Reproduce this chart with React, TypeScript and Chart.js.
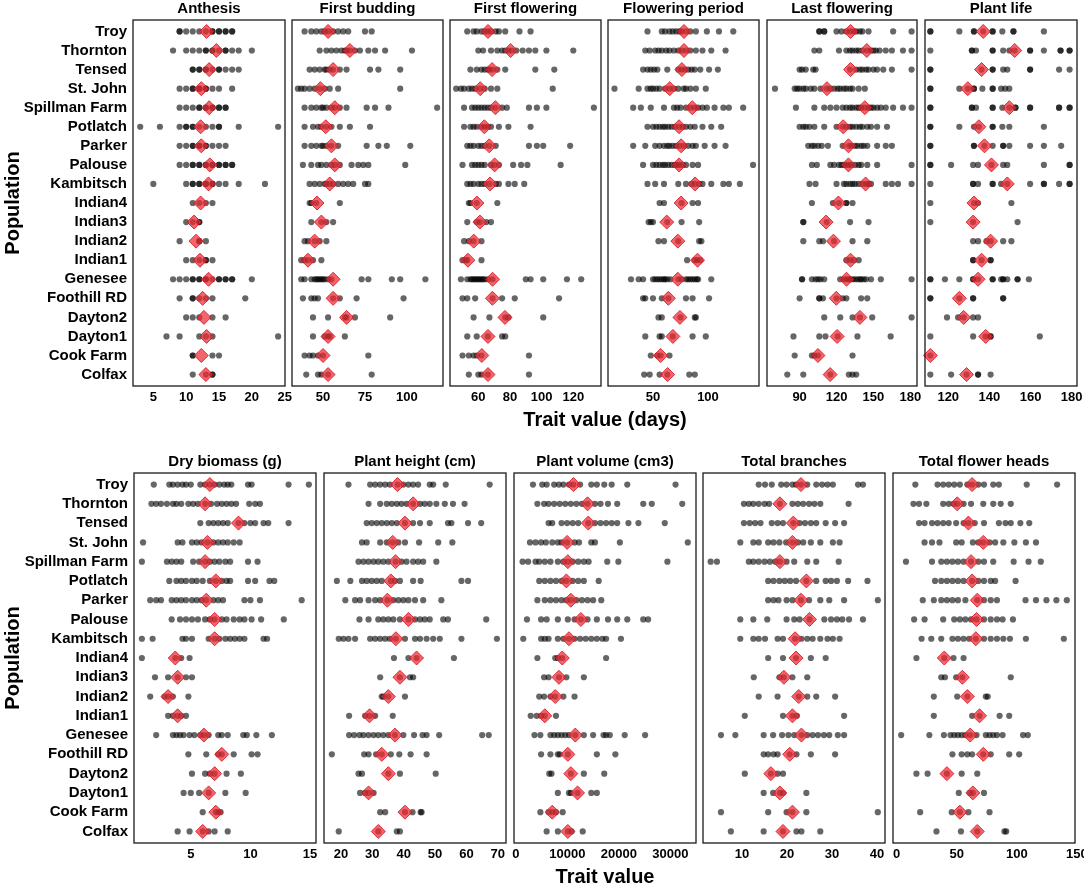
import { useEffect, useRef } from "react"
import { Chart, registerables } from "chart.js"

Chart.register(...registerables)

const FONT = "'Liberation Sans', Arial, Helvetica, sans-serif"

const populations = [
  "Troy", "Thornton", "Tensed", "St. John", "Spillman Farm", "Potlatch", "Parker", "Palouse",
  "Kambitsch", "Indian4", "Indian3", "Indian2", "Indian1", "Genesee", "Foothill RD", "Dayton2",
  "Dayton1", "Cook Farm", "Colfax",
]

// ---- top row: days ----
const anthesisPoints = [
  [9, 9, 10, 11, 12, 13, 14, 14, 15, 15, 16, 16, 17, 17],
  [8, 10, 11, 12, 13, 13, 14, 14, 15, 16, 16, 17, 18, 20],
  [11, 11, 12, 12, 13, 13, 14, 15, 15, 16, 17, 18],
  [9, 10, 11, 11, 12, 12, 13, 13, 14, 15, 17],
  [9, 10, 11, 12, 12, 13, 13, 14, 14, 15, 15, 16, 16],
  [3, 6, 9, 10, 10, 11, 11, 12, 13, 14, 15, 15, 18, 24],
  [9, 10, 11, 11, 12, 12, 13, 13, 14, 15, 16],
  [9, 10, 11, 11, 12, 12, 13, 13, 14, 14, 15, 15, 16, 16, 17, 17],
  [5, 10, 11, 11, 12, 12, 13, 13, 14, 14, 15, 16, 18, 22],
  [11, 12, 13, 14],
  [10, 11, 12, 12],
  [9, 12, 12, 13],
  [10, 11, 12, 13, 13, 14],
  [8, 9, 10, 11, 11, 12, 12, 13, 13, 14, 15, 15, 16, 16, 17, 17, 20],
  [9, 11, 11, 12, 13, 14, 19],
  [10, 11, 12, 14, 16],
  [7, 9, 12, 13, 14, 24],
  [11, 11, 14, 15],
  [11, 13, 14, 14],
]
const anthesisMeans = [13.1, 14.6, 13.5, 12.3, 13.5, 12.2, 12.3, 13.6, 13.4, 12.2, 11.2, 11.5, 12.1, 13.4, 12.5, 12.7, 13.1, 12.3, 13.0]
const anthesisTicks = [5, 10, 15, 20, 25]

const buddingPoints = [
  [39, 43, 46, 49, 51, 53, 56, 59, 62, 65, 75, 79],
  [48, 52, 55, 58, 61, 63, 64, 66, 69, 72, 77, 81, 87, 103],
  [42, 45, 48, 51, 52, 54, 56, 60, 64, 78, 83, 96],
  [35, 37, 39, 42, 45, 48, 51, 54, 59, 96],
  [39, 43, 46, 49, 50, 52, 55, 57, 60, 64, 76, 81, 89, 118],
  [39, 44, 47, 49, 52, 55, 60, 66, 78],
  [39, 43, 46, 49, 50, 52, 55, 59, 76, 83, 88, 102],
  [38, 43, 47, 49, 52, 55, 57, 60, 67, 71, 74, 77, 99],
  [42, 45, 48, 51, 52, 54, 56, 59, 62, 65, 68, 75, 77],
  [42, 43, 46, 60],
  [43, 49, 52, 56],
  [39, 41, 45, 48, 52],
  [37, 39, 41, 44, 49],
  [37, 39, 43, 45, 46, 47, 48, 49, 50, 51, 53, 55, 73, 77, 91, 96, 111],
  [38, 43, 45, 47, 56, 60, 70, 98],
  [44, 53, 63, 64, 69, 90],
  [44, 51, 53, 54, 63],
  [39, 42, 44, 47, 50, 77],
  [40, 47, 49, 53, 79],
]
const buddingMeans = [53, 66, 56, 48.4, 57, 51.6, 55, 57, 54, 46.4, 49, 45, 41, 56, 56, 64, 53, 50, 53]
const buddingTicks = [50, 75, 100]

const firstFlowerPoints = [
  [53, 57, 59, 62, 64, 66, 68, 71, 73, 77, 86, 93],
  [60, 63, 68, 72, 75, 77, 79, 81, 84, 88, 92, 96, 103, 120],
  [55, 59, 62, 64, 66, 67, 69, 72, 77, 96, 108],
  [46, 49, 51, 54, 56, 58, 61, 64, 68, 72, 107],
  [51, 56, 58, 60, 62, 64, 66, 68, 71, 75, 78, 92, 97, 103, 133],
  [51, 55, 57, 59, 62, 64, 66, 68, 73, 79, 93],
  [53, 55, 57, 60, 62, 64, 67, 71, 92, 97, 101, 118],
  [50, 56, 58, 60, 62, 64, 68, 70, 73, 82, 87, 91, 112],
  [53, 55, 57, 60, 62, 64, 67, 71, 73, 79, 83, 89],
  [54, 55, 59, 72],
  [53, 59, 61, 65, 68],
  [51, 54, 57, 62],
  [50, 52, 53, 62],
  [49, 53, 55, 56, 57, 58, 59, 60, 61, 62, 63, 64, 66, 69, 90, 93, 101, 116, 125],
  [50, 53, 58, 69, 75, 83, 111],
  [57, 67, 77, 79, 101],
  [53, 59, 66, 75, 77],
  [50, 54, 57, 59, 62, 92],
  [54, 60, 62, 66, 92],
]
const firstFlowerMeans = [66.1, 80.4, 68.7, 61.2, 70.8, 63.8, 66.9, 70.3, 67.4, 59.1, 61, 57.1, 53.4, 69, 68.9, 76.8, 66.1, 62.2, 66.1]
const firstFlowerTicks = [60, 80, 100, 120]

const periodPoints = [
  [45, 58, 61, 65, 68, 71, 74, 76, 80, 84, 89, 99, 110, 123],
  [43, 47, 52, 55, 58, 62, 65, 69, 73, 76, 80, 84, 89, 95, 103, 116],
  [41, 45, 48, 51, 54, 63, 73, 76, 79, 82, 85, 88, 93, 101, 109],
  [15, 37, 45, 48, 50, 53, 56, 61, 65, 69, 73, 78, 80, 84, 89, 98],
  [32, 39, 48, 60, 69, 72, 75, 80, 84, 88, 91, 95, 99, 106, 114, 119, 132],
  [45, 50, 53, 56, 59, 61, 64, 67, 70, 74, 77, 80, 84, 88, 95, 103, 112],
  [32, 43, 52, 56, 60, 63, 65, 68, 71, 74, 78, 82, 86, 89, 97, 106, 116],
  [41, 50, 53, 56, 59, 61, 64, 67, 70, 72, 74, 77, 80, 86, 91, 141],
  [45, 52, 60, 73, 80, 85, 88, 92, 95, 103, 114, 119, 129],
  [56, 60, 76, 86, 91],
  [46, 48, 50, 63, 76, 92],
  [55, 60, 73, 92, 94],
  [81, 88, 90, 93],
  [30, 37, 41, 50, 52, 54, 56, 58, 60, 61, 63, 66, 73, 76, 80, 82, 84, 86, 88, 90, 91, 103],
  [41, 43, 50, 58, 64, 80, 86, 101],
  [55, 58, 75, 88, 89],
  [43, 56, 58, 68, 86, 98],
  [48, 54, 57, 65],
  [42, 47, 56, 63, 83, 88],
]
const periodMeans = [78.2, 78.2, 76.3, 65.2, 85.7, 73.7, 75.6, 73.7, 88.3, 75.6, 62.5, 72.6, 90.5, 72.6, 64, 74.5, 68.1, 56.9, 63.3]
const periodTicks = [50, 100]

const lastFlowerPoints = [
  [106, 106, 110, 110, 120, 124, 128, 131, 134, 136, 139, 141, 146, 166, 181],
  [102, 106, 122, 128, 131, 133, 136, 138, 141, 145, 148, 150, 152, 155, 160, 165, 174, 181],
  [90, 92, 95, 101, 103, 131, 136, 139, 141, 144, 146, 150, 153, 158, 165, 181],
  [70, 86, 88, 90, 93, 95, 99, 102, 107, 112, 115, 118, 121, 123, 126, 128, 131, 133, 138, 143],
  [87, 102, 110, 115, 120, 125, 128, 131, 133, 136, 138, 140, 143, 146, 148, 150, 153, 156, 160, 166, 174, 181],
  [90, 93, 95, 98, 102, 110, 120, 125, 128, 131, 133, 136, 139, 141, 145, 148, 153, 161],
  [97, 100, 102, 105, 108, 113, 125, 130, 132, 135, 137, 140, 142, 145, 153, 160, 165],
  [100, 104, 115, 118, 122, 124, 126, 128, 130, 132, 135, 138, 140, 145, 153, 181],
  [98, 103, 120, 126, 128, 131, 133, 135, 138, 141, 144, 146, 148, 160, 165, 170, 181],
  [100, 117, 122, 128, 128, 133],
  [93, 93, 112, 131, 146],
  [93, 106, 109, 118, 133, 145],
  [128, 131, 134, 138],
  [92, 92, 100, 103, 105, 107, 110, 123, 126, 128, 130, 131, 133, 135, 137, 139, 140, 142, 144, 148, 156, 181],
  [90, 106, 106, 109, 120, 125, 128, 140, 145],
  [110, 123, 133, 139, 149, 181],
  [85, 106, 111, 121, 137, 164],
  [86, 100, 102, 105, 133],
  [80, 93, 115, 130, 133, 136],
]
const lastFlowerMeans = [131.4, 144.6, 131.4, 112.2, 143, 125.4, 129.7, 129.7, 143.6, 121.5, 111.5, 117.5, 131.4, 128.1, 119.8, 139, 120.5, 104.9, 114.8]
const lastFlowerTicks = [90, 120, 150, 180]

const lifePoints = [
  [111.3, 111.3, 125.4, 132.5, 132.5, 137, 141.6, 141.6, 146.3, 151.7, 151.7, 166.5],
  [111.3, 131.5, 131.5, 133.5, 141.6, 141.6, 146.7, 149.7, 152.3, 159.8, 159.8, 166.5, 174.6, 174.6, 179, 179],
  [111.3, 111.3, 136.2, 141.6, 141.6, 146.7, 148.7, 159.8, 159.8, 173.9, 179],
  [111.3, 111.3, 125.4, 129.5, 132.5, 132.5, 136.6, 141.6, 141.6, 145.7, 147.7, 149.7],
  [111.3, 111.3, 131.5, 131.5, 133.5, 141.6, 141.6, 146.3, 149.7, 152.7, 152.7, 159.8, 159.8, 173.9, 173.9, 179, 179],
  [111.3, 111.3, 125.4, 132.5, 134.9, 141.6, 141.6, 146.3, 149.7, 166.5],
  [111.3, 111.3, 132.5, 132.5, 137.6, 141.6, 146.7, 146.7, 149.7, 159.8, 166.5, 174.9],
  [111.3, 111.3, 121.4, 132.1, 134.5, 141, 146.7, 148.7, 166.5, 179, 179],
  [111.3, 132.1, 132.1, 134.5, 141.6, 141.6, 145.7, 148.7, 159.8, 166.5, 166.5, 173.9, 179, 179],
  [111.3, 132.5, 134.5, 150.7],
  [111.3, 132.1, 153.7],
  [132.1, 134.5, 138.6, 140.6, 146.7, 150.7],
  [132.1, 132.1, 136.2, 140.6, 140.6],
  [111.3, 111.3, 118.4, 125.4, 132.1, 132.1, 134.5, 141.6, 141.6, 145.7, 146.7, 146.7, 148.7, 153.7, 153.7, 159.2],
  [111.3, 111.3, 125.4, 132.1, 132.1, 146.7, 146.7],
  [119.4, 124.8, 127.5, 132.1, 134.5],
  [111.3, 132.1, 138.2, 140.6, 140.6, 164.5],
  [111.3],
  [111.3, 121.4, 128.9, 134.5, 134.5, 140.6],
]
const lifeMeans = [137, 152.3, 136.2, 129.5, 149.7, 134.9, 137.6, 141, 148.7, 132.5, 132.1, 140.6, 136.2, 134.5, 125.4, 127.5, 138.2, 111.3, 128.9]
const lifeTicks = [120, 140, 160, 180]

// ---- bottom row ----
const biomassPoints = [
  [1.9, 3.2, 3.5, 3.9, 4.3, 4.6, 5.0, 5.8, 6.2, 6.6, 7.0, 7.4, 7.8, 8.1, 8.4, 9.8, 10.1, 13.2, 14.9],
  [1.7, 2.1, 2.5, 3.0, 3.5, 3.8, 4.2, 4.8, 5.2, 5.6, 6.2, 6.7, 7.2, 7.6, 8.0, 8.4, 8.8, 9.9, 10.4, 10.8],
  [5.8, 6.5, 6.9, 7.3, 7.7, 8.1, 9.0, 9.5, 10.0, 10.4, 11.1, 11.5, 13.2],
  [1.0, 3.9, 4.3, 5.1, 5.5, 5.9, 6.4, 6.9, 7.3, 7.7, 8.1, 8.6, 9.1],
  [0.9, 3.0, 3.4, 3.8, 4.2, 5.2, 5.7, 6.2, 6.6, 7.0, 7.4, 7.9, 8.3, 9.8, 10.6],
  [3.2, 3.8, 4.2, 4.6, 5.1, 5.5, 6.0, 6.6, 7.1, 7.6, 8.0, 8.3, 9.8, 10.4, 11.6, 12.0],
  [1.6, 2.1, 2.5, 3.4, 3.8, 4.2, 4.6, 5.1, 5.5, 5.9, 6.3, 6.9, 7.3, 7.7, 9.5, 10.0, 10.8, 14.3],
  [3.4, 4.1, 4.6, 5.1, 5.6, 6.2, 6.6, 7.0, 7.6, 8.0, 8.6, 9.1, 9.5, 10.1, 10.9, 12.8],
  [0.9, 1.8, 4.3, 4.6, 5.1, 6.5, 7.0, 7.4, 7.9, 8.3, 8.7, 9.1, 9.5, 11.1, 11.4],
  [0.9, 3.7, 4.2, 4.9],
  [2.0, 3.1, 3.9, 4.6, 5.1],
  [1.6, 2.8, 3.1, 3.5, 4.8],
  [3.1, 3.5, 3.9, 4.2, 4.6],
  [2.1, 3.5, 3.8, 4.1, 4.4, 4.9, 5.3, 5.8, 6.1, 6.5, 7.3, 7.6, 8.1, 9.4, 9.7, 10.5, 11.8],
  [4.8, 6.3, 7.3, 7.6, 8.6, 10.1, 10.6],
  [5.1, 6.2, 6.6, 7.0, 8.0, 9.2],
  [4.4, 5.0, 5.7, 6.5, 7.9, 9.6],
  [6.0, 7.1, 7.3, 7.5],
  [3.9, 4.9, 6.0, 6.5, 7.0, 8.1],
]
const biomassMeans = [6.6, 6.2, 9.0, 6.4, 6.2, 7.1, 6.3, 7.0, 7.0, 3.7, 3.9, 3.1, 3.9, 6.1, 7.6, 7.0, 6.5, 7.1, 6.0]
const biomassTicks = [5, 10, 15]

const heightPoints = [
  [22.4, 29.3, 30.9, 32.5, 34.1, 35.6, 38, 39.9, 41.5, 43, 44.6, 48.3, 49.4, 53.4, 67.4],
  [28.8, 32.5, 34.6, 36.2, 37.8, 39.3, 40.9, 43, 45.2, 46.7, 48.3, 50.4, 53.1, 55.7, 59.4],
  [28.2, 29.8, 31.4, 33, 34.6, 36.2, 37.8, 40.4, 43, 45.2, 48.3, 54.1, 55.2, 60.5, 64.7],
  [26.7, 28.2, 32.5, 34.6, 36.5, 38.3, 40.4, 44.9, 51, 55.5],
  [25.6, 27.2, 28.8, 30.4, 31.9, 33.5, 35.1, 37.4, 39.3, 40.9, 43, 44.6, 46.2, 50.4],
  [18.7, 23, 26.7, 28.2, 29.8, 31.4, 33, 35.9, 37.2, 38.8, 43, 45.4, 58.4, 60.5],
  [21.4, 24.5, 26.1, 28.8, 30.9, 32.5, 34.8, 36.7, 38.3, 39.9, 41.5, 43.6, 46.2, 52],
  [25.9, 28.8, 31.9, 33.5, 35.1, 36.7, 38.8, 41.5, 43.6, 45.2, 46.7, 48.3, 52.6, 54.1, 66.3],
  [19.3, 20.8, 22.4, 24.5, 29.3, 30.9, 32.5, 34.1, 35.6, 37.5, 40.4, 43.6, 45.2, 47.3, 49.4, 51.5, 58.4, 69.7],
  [36.9, 41.5, 44.1, 56],
  [32.5, 38.8, 42, 43],
  [33, 33.5, 35.1, 40.4],
  [22.6, 27.7, 29.1, 30.9, 36.5],
  [22.6, 24.2, 25.9, 27.2, 28.8, 30.4, 31.9, 33.5, 35.1, 37.2, 39.9, 43.3, 46, 47.3, 51.3, 65, 67.1],
  [17.1, 27.4, 28.8, 31.2, 33, 35.9, 38.6, 42.2, 47.3],
  [25.6, 26.7, 35.1, 38.8, 50.2],
  [26.1, 27.7, 28.8, 30.4],
  [32.5, 34.1, 40.4, 42.8, 45.4, 45.7],
  [19.3, 31.9, 37.8, 38.8],
]
const heightMeans = [38, 43, 40.4, 36.5, 37.4, 35.9, 34.8, 41.5, 37.5, 44.1, 38.8, 35.1, 29.1, 37.2, 33, 35.1, 28.8, 40.4, 31.9]
const heightTicks = [20, 30, 40, 50, 60, 70]

const volumePoints = [
  [3320, 5120, 5980, 7430, 8360, 9230, 10310, 11180, 12470, 14640, 15720, 17160, 18600, 21630, 31000],
  [4180, 5480, 6350, 7430, 8510, 9590, 10670, 11750, 12830, 13920, 15360, 16440, 17880, 19680, 24730, 26390, 32300],
  [6350, 7070, 8870, 9950, 11030, 12110, 14060, 15360, 16440, 17520, 18600, 19680, 21850, 23790, 28910],
  [2740, 3820, 4900, 5840, 7070, 8150, 8870, 9950, 11390, 12260, 14640, 15360, 20190, 33380],
  [1300, 2380, 3820, 4540, 5620, 6710, 8150, 9230, 10090, 11030, 12110, 13200, 14130, 17740, 19900, 29420],
  [4540, 5620, 6710, 7790, 8870, 9810, 11030, 12110, 13200, 16080],
  [4180, 5620, 6710, 7790, 8870, 9810, 10670, 11750, 12830, 13920, 15000, 16580],
  [2160, 4900, 5980, 8150, 10090, 11390, 12620, 13920, 15720, 17880, 19680, 21630, 24730, 25670],
  [1440, 4900, 5620, 6350, 8150, 9230, 10310, 11390, 12470, 13560, 14640, 15720, 16800, 17520, 20400],
  [4180, 7640, 8150, 9010, 17520],
  [5480, 6350, 8360, 9810, 13200],
  [4540, 5480, 6710, 7640, 9230, 11390],
  [2880, 4040, 4900, 5620, 7790],
  [3610, 4760, 6710, 7430, 8150, 8870, 9590, 10310, 11540, 13200, 15000, 17020, 17520, 18240, 21130, 25090],
  [4900, 6710, 8150, 8510, 10090, 15720, 19320],
  [6490, 6920, 10670, 13200, 17160],
  [8150, 10310, 10670, 11970, 14640, 15720],
  [4760, 6350, 7070, 7790, 9090],
  [5980, 8150, 10090, 10820, 12980],
]
const volumeMeans = [11180, 13920, 14060, 9950, 10090, 9810, 10670, 12620, 10310, 9010, 8360, 7640, 5620, 11540, 10090, 10670, 11970, 7070, 10090]
const volumeTicks = [0, 10000, 20000, 30000]

const branchPoints = [
  [13.7, 15.1, 16.6, 18.7, 19.9, 21.2, 22, 23.1, 24.5, 26.5, 27.8, 29, 30.2, 35.8, 36.9],
  [10.4, 11.5, 12.5, 13.7, 15, 16, 18.4, 21.2, 22.4, 23.6, 24.9, 26.1, 27.4, 33.7],
  [10.4, 11.7, 12.9, 14.1, 16.6, 17.9, 19.1, 21.4, 22.8, 24, 25.3, 26.5, 28.6, 30.7, 32.7],
  [9.6, 12.5, 13.7, 15.8, 17, 18.3, 19.8, 21.2, 22.4, 23.6, 25.3, 27.4, 30.2, 31.7],
  [3, 4.4, 11.5, 12.5, 13.7, 15, 16.2, 17.4, 18.4, 19.9, 21.6, 24.5, 26.5, 31.5],
  [15.8, 17, 18.3, 19.5, 20.7, 22, 24.3, 26.5, 28.6, 29.8, 31.1, 33.6, 37.9],
  [15.8, 17, 18.1, 19.9, 21.2, 23.1, 24.9, 27.4, 29.4, 32.7, 40.2],
  [9.6, 12.5, 15.6, 19.9, 21.6, 22.8, 25, 28.3, 29.8, 31.1, 32.3, 33.8, 36.9],
  [9.6, 12.5, 13.7, 15.1, 17.9, 19.1, 21.8, 23.2, 24.5, 25.7, 27.4, 29, 30.2, 31.7],
  [15.8, 19.1, 22, 25.3, 28.6],
  [12.6, 18.3, 19.3, 21.2, 24.5],
  [13.7, 17.9, 22.6, 24.5, 26.5, 30.7],
  [10.6, 19.1, 21.2, 22.2, 32.7],
  [5.3, 8.5, 14.8, 16.9, 18.9, 20.3, 21.6, 23.2, 24.5, 25.7, 26.9, 28.2, 29.4, 31.3, 32.7],
  [14.8, 15.8, 17, 17.9, 20.6, 22.1, 25.3, 30.7],
  [10.6, 16.4, 17.9, 19.1],
  [14.8, 16.9, 18.4, 19.1, 24.3],
  [5.3, 15.8, 19.9, 21.2, 24.3, 40.2],
  [7.5, 14.8, 19.1, 22.1, 23.2, 27.4],
]
const branchMeans = [23.1, 18.4, 21.4, 21.2, 18.4, 24.3, 23.1, 25, 21.8, 22, 19.3, 22.6, 21.2, 23.2, 20.6, 16.4, 18.4, 21.2, 19.1]
const branchTicks = [10, 20, 30, 40]

const headPoints = [
  [15.5, 34, 38.7, 43.3, 47.9, 52.6, 58.8, 62.8, 68, 72.7, 80.4, 85.1, 108.3, 133.6],
  [13.9, 18.6, 24.7, 38.7, 43.3, 47.3, 50.4, 55.7, 61.9, 72.1, 80.4, 86.6, 95],
  [18.6, 23.2, 29.4, 34, 38.7, 43.3, 49.5, 55.7, 59.7, 65, 72.7, 85.1, 90.6, 95, 103, 110.4],
  [23.2, 29.4, 35.6, 49.5, 54.1, 63.4, 68, 72.1, 77.3, 82, 88.8, 98, 107.6, 116],
  [7.7, 29.4, 37.1, 41.8, 46.4, 51, 55.7, 61.9, 68, 72.7, 80.4, 97.4, 109.8, 120],
  [31.9, 37.1, 41.8, 46.4, 51, 55.7, 62.8, 68, 72.7, 78.3, 82, 99],
  [21.7, 30.9, 37.1, 41.8, 46.4, 51, 57.2, 67.1, 72.7, 78.3, 83.5, 107.3, 116, 124.7, 133, 141.7],
  [14.5, 23.2, 38.7, 47.9, 52.6, 57.2, 61.9, 66.5, 72.7, 78.3, 83.5, 88.2, 96.8],
  [20.7, 28.8, 37.1, 46.4, 51, 55.7, 60.3, 65.9, 72.7, 78.3, 83.5, 88.8, 94.3, 107.6, 139.2],
  [16.4, 39.6, 47.3, 55.7],
  [37.1, 40.2, 49.5, 54.7, 95],
  [30.9, 50.4, 58.8, 74.2, 75.8],
  [30.9, 62.8, 69, 85.7, 93.7],
  [3.7, 27.2, 39.3, 44.8, 47.9, 51, 54.1, 57.2, 61.2, 66.5, 74.2, 77.3, 80.4, 83.5, 88.2, 105.2, 109.2],
  [46.4, 54.1, 58.8, 62.8, 72.1, 78.3, 93.7, 102],
  [16.4, 25.7, 41.8, 54.1, 67.1],
  [51.7, 60.9, 63.4, 72.7],
  [19.5, 45.8, 52.6, 59.7, 77.3],
  [33.1, 53.5, 67.1, 89.7, 91.2],
]
const headMeans = [62.8, 50.4, 59.7, 72.1, 61.9, 62.8, 67.1, 66.5, 65.9, 39.6, 54.7, 58.8, 69, 61.2, 72.1, 41.8, 63.4, 52.6, 67.1]
const headTicks = [0, 50, 100, 150]

type PanelSpec = {
  title: string
  points: number[][]
  means: number[]
  ticks: number[]
  min: number
  max: number
  left: number
  right: number
}

const TITLE_H = 20
const AXIS_H = 24
const SIDE = 22

const TOP_ROW = { top: 20, bottom: 386 }
const BOTTOM_ROW = { top: 473, bottom: 843 }

const topPanels: PanelSpec[] = [
  { title: "Anthesis", points: anthesisPoints, means: anthesisMeans, ticks: anthesisTicks, min: 1.9, max: 25.05, left: 133, right: 285 },
  { title: "First budding", points: buddingPoints, means: buddingMeans, ticks: buddingTicks, min: 31.5, max: 121.5, left: 292, right: 443 },
  { title: "First flowering", points: firstFlowerPoints, means: firstFlowerMeans, ticks: firstFlowerTicks, min: 42.1, max: 137.5, left: 450, right: 601 },
  { title: "Flowering period", points: periodPoints, means: periodMeans, ticks: periodTicks, min: 9.1, max: 146.4, left: 608, right: 759 },
  { title: "Last flowering", points: lastFlowerPoints, means: lastFlowerMeans, ticks: lastFlowerTicks, min: 63.5, max: 185.4, left: 767, right: 917 },
  { title: "Plant life", points: lifePoints, means: lifeMeans, ticks: lifeTicks, min: 108.7, max: 182.6, left: 925, right: 1077 },
]

const bottomPanels: PanelSpec[] = [
  { title: "Dry biomass (g)", points: biomassPoints, means: biomassMeans, ticks: biomassTicks, min: 0.24, max: 15.5, left: 134, right: 316 },
  { title: "Plant height (cm)", points: heightPoints, means: heightMeans, ticks: heightTicks, min: 14.6, max: 72.6, left: 324, right: 506 },
  { title: "Plant volume (cm3)", points: volumePoints, means: volumeMeans, ticks: volumeTicks, min: -360, max: 34970, left: 514, right: 696 },
  { title: "Total branches", points: branchPoints, means: branchMeans, ticks: branchTicks, min: 1.3, max: 41.8, left: 703, right: 885 },
  { title: "Total flower heads", points: headPoints, means: headMeans, ticks: headTicks, min: -3.1, max: 148.5, left: 893, right: 1075 },
]

// panel frame, drawn over the marks like a ggplot panel border
const boxPlugin = {
  id: "panelBox",
  afterDatasetsDraw: (chart: Chart) => {
    const { ctx, chartArea: a } = chart
    ctx.save()
    ctx.strokeStyle = "#1a1a1a"
    ctx.lineWidth = 1.3
    ctx.strokeRect(a.left, a.top, a.right - a.left, a.bottom - a.top)
    ctx.restore()
  },
}

function TraitPanel({ spec, top, bottom, first }: { spec: PanelSpec; top: number; bottom: number; first: boolean }) {
  const chartRef = useRef<HTMLCanvasElement>(null)
  const left = first ? 0 : spec.left - SIDE
  const width = spec.right - left + SIDE
  const height = TITLE_H + (bottom - top) + AXIS_H

  useEffect(() => {
    if (!chartRef.current) return
    const chart = new Chart(chartRef.current, {
      type: "scatter",
      data: {
        datasets: [
          {
            data: spec.means.map((m, i) => ({ x: m, y: i })),
            pointStyle: "rectRot",
            pointRadius: 7,
            pointHoverRadius: 7,
            backgroundColor: "rgba(238,42,50,0.72)",
            borderColor: "rgba(214,24,34,0.85)",
            borderWidth: 1,
            clip: false,
          },
          {
            data: spec.points.flatMap((vals, i) => vals.map((v) => ({ x: v, y: i }))),
            pointRadius: 3.1,
            pointHoverRadius: 3.1,
            backgroundColor: "rgba(0,0,0,0.6)",
            borderWidth: 0,
            clip: false,
          },
        ],
      },
      options: {
        animation: false,
        responsive: true,
        maintainAspectRatio: false,
        events: [],
        layout: { padding: { left: first ? 0 : SIDE, right: SIDE, top: 0, bottom: 0 } },
        plugins: {
          legend: { display: false },
          tooltip: { enabled: false },
          title: {
            display: true,
            text: spec.title,
            fullSize: false,
            color: "#000",
            font: { family: FONT, size: 15, weight: "bold" },
            padding: { top: 0, bottom: 2 },
          },
        },
        scales: {
          x: {
            type: "linear",
            min: spec.min,
            max: spec.max,
            grid: { display: false, drawTicks: false },
            border: { display: false },
            afterBuildTicks: (axis: any) => {
              axis.ticks = spec.ticks.map((v) => ({ value: v }))
            },
            afterFit: (axis: any) => {
              axis.height = AXIS_H
            },
            ticks: {
              autoSkip: false,
              maxRotation: 0,
              minRotation: 0,
              padding: 4,
              color: "#000",
              font: { family: FONT, size: 13, weight: "bold" },
              callback: (v: any) => String(v),
            },
          },
          y: {
            type: "linear",
            display: first,
            reverse: true,
            min: -0.6,
            max: populations.length - 0.4,
            grid: { display: false, drawTicks: false },
            border: { display: false },
            afterBuildTicks: (axis: any) => {
              axis.ticks = populations.map((_, i) => ({ value: i }))
            },
            afterFit: (axis: any) => {
              axis.width = first ? spec.left : 0
            },
            ticks: {
              autoSkip: false,
              padding: 6,
              color: "#000",
              font: { family: FONT, size: 15, weight: "bold" },
              callback: (v: any) => populations[v],
            },
          },
        },
      },
      plugins: [boxPlugin],
    } as any)
    return () => chart.destroy()
  }, [spec, first])

  return (
    <div style={{ position: "absolute", left, top: top - TITLE_H, width, height }}>
      <canvas ref={chartRef} />
    </div>
  )
}

const captionStyle = {
  position: "absolute" as const,
  fontFamily: FONT,
  fontWeight: "bold" as const,
  fontSize: 20,
  lineHeight: "24px",
  color: "#000",
  textAlign: "center" as const,
  whiteSpace: "nowrap" as const,
}

export default function App() {
  return (
    <div style={{ position: "absolute", left: 0, top: 0, width: 1084, height: 884, background: "#fff", overflow: "hidden" }}>
      {topPanels.map((p, i) => (
        <TraitPanel key={p.title} spec={p} top={TOP_ROW.top} bottom={TOP_ROW.bottom} first={i === 0} />
      ))}
      {bottomPanels.map((p, i) => (
        <TraitPanel key={p.title} spec={p} top={BOTTOM_ROW.top} bottom={BOTTOM_ROW.bottom} first={i === 0} />
      ))}
      <div style={{ ...captionStyle, left: 12 - 100, top: 203 - 12, width: 200, transform: "rotate(-90deg)" }}>Population</div>
      <div style={{ ...captionStyle, left: 12 - 100, top: 658 - 12, width: 200, transform: "rotate(-90deg)" }}>Population</div>
      <div style={{ ...captionStyle, left: 605 - 150, top: 407, width: 300 }}>Trait value (days)</div>
      <div style={{ ...captionStyle, left: 605 - 150, top: 864, width: 300 }}>Trait value</div>
    </div>
  )
}
